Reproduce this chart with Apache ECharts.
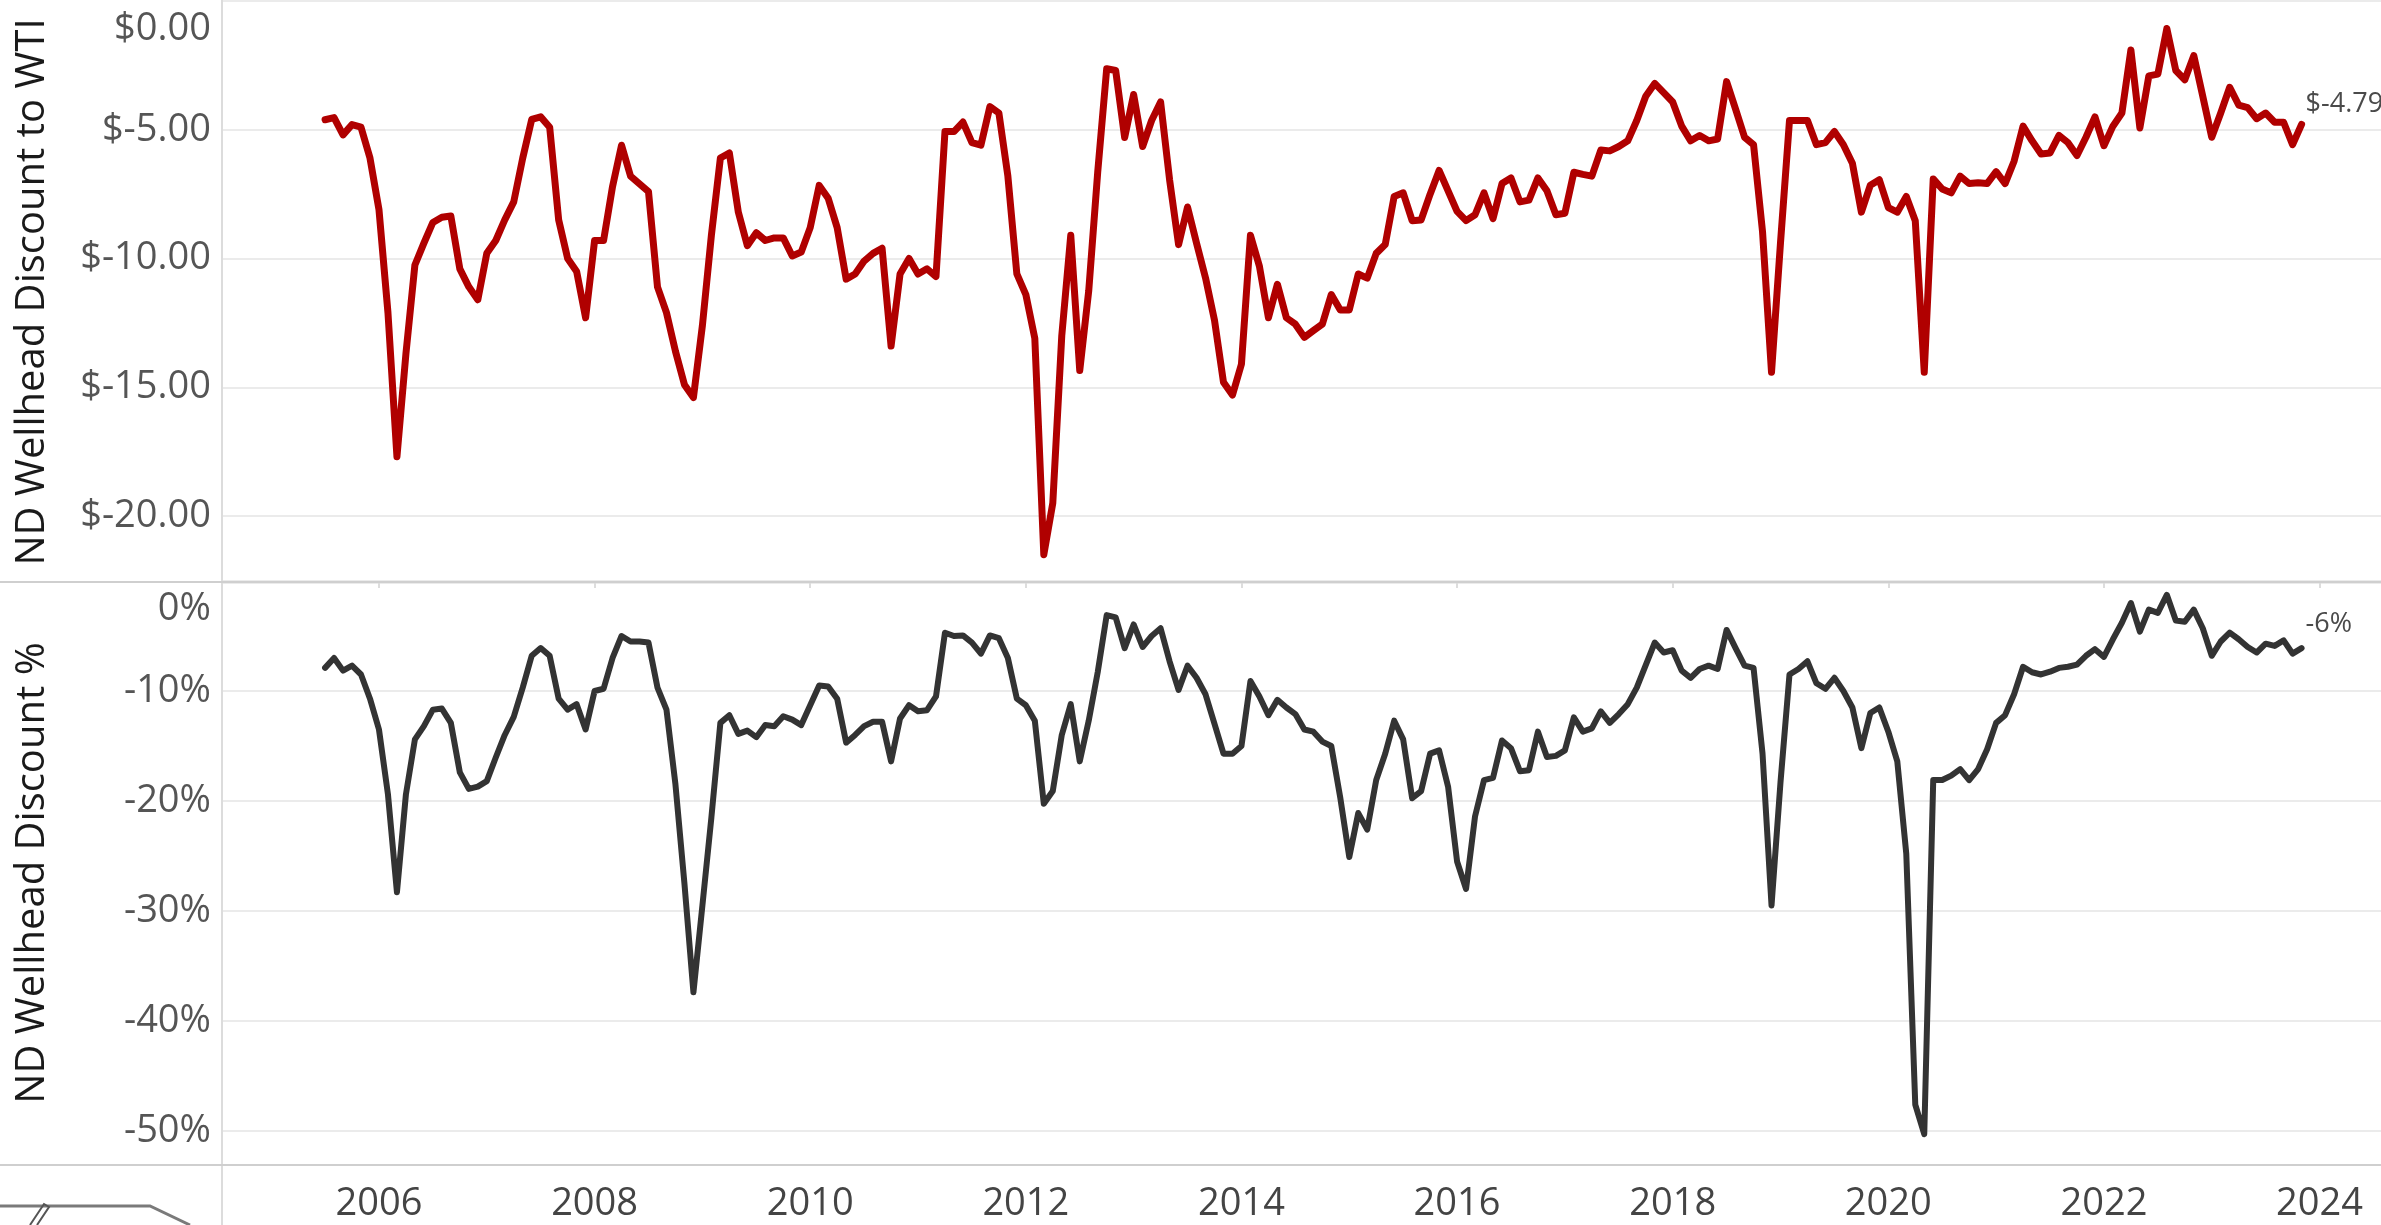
<!DOCTYPE html>
<html>
<head>
<meta charset="utf-8">
<title>ND Wellhead Discount to WTI</title>
<script src="https://cdn.jsdelivr.net/npm/echarts@6/dist/echarts.min.js"></script>
<style>
    html, body { margin: 0; padding: 0; background: #ffffff; }
    #chart { width: 2381px; height: 1225px; }
</style>
</head>
<body>
<div id="chart"></div>
<script>
// monthly values, first month is July 2005, last is November 2023
const startYear = 2005
const startMonth = 7

// ND wellhead price minus WTI, $/bbl
const discountUsd = [
    -4.61, -4.53, -5.2, -4.8, -4.9, -6.1,
    -8.1, -12.1, -17.7, -13.7, -10.25, -9.4, -8.6, -8.4, -8.35, -10.4, -11.1, -11.6,
    -9.8, -9.3, -8.5, -7.8, -6.1, -4.6, -4.5, -4.9, -8.5, -10.0, -10.5, -12.3,
    -9.3, -9.3, -7.2, -5.6, -6.8, -7.1, -7.4, -11.1, -12.1, -13.6, -14.9, -15.4,
    -12.6, -9.1, -6.1, -5.9, -8.2, -9.5, -9.0, -9.3, -9.2, -9.2, -9.9, -9.75,
    -8.8, -7.16, -7.66, -8.8, -10.8, -10.6, -10.1, -9.8, -9.6, -13.4, -10.6, -10.0,
    -10.6, -10.4, -10.7, -5.07, -5.07, -4.7, -5.5, -5.6, -4.1, -4.35, -6.8, -10.6,
    -11.4, -13.1, -21.5, -19.5, -13.0, -9.1, -14.35, -11.26, -6.65, -2.63, -2.7, -5.3,
    -3.63, -5.65, -4.64, -3.92, -6.94, -9.46, -8.0, -9.4, -10.75, -12.4, -14.8, -15.3,
    -14.1, -9.1, -10.3, -12.3, -11.0, -12.3, -12.55, -13.06, -12.8, -12.55, -11.4, -12.0,
    -12.0, -10.6, -10.76, -9.8, -9.46, -7.59, -7.45, -8.53, -8.5, -7.5, -6.58, -7.37,
    -8.17, -8.53, -8.3, -7.45, -8.45, -7.09, -6.87, -7.8, -7.73, -6.87, -7.37, -8.3,
    -8.24, -6.65, -6.73, -6.8, -5.79, -5.82, -5.65, -5.43, -4.64, -3.7, -3.2, -3.56,
    -3.92, -4.86, -5.43, -5.22, -5.43, -5.36, -3.13, -4.2, -5.29, -5.58, -8.96, -14.42,
    -9.39, -4.64, -4.64, -4.64, -5.58, -5.5, -5.07, -5.58, -6.3, -8.2, -7.15, -6.94,
    -8.02, -8.2, -7.59, -8.53, -14.42, -6.91, -7.3, -7.45, -6.8, -7.09, -7.06, -7.09,
    -6.63, -7.09, -6.22, -4.86, -5.43, -5.94, -5.9, -5.22, -5.5, -6.0, -5.29, -4.5,
    -5.62, -4.86, -4.35, -1.9, -4.93, -2.91, -2.84, -1.07, -2.7, -3.06, -2.12, -3.7,
    -5.29, -4.35, -3.35, -4.04, -4.14, -4.57, -4.35, -4.71, -4.71, -5.58, -4.79
]

// same discount as a share of WTI, %
const discountPct = [
    -7.9, -7.0, -8.15, -7.7, -8.5, -10.7,
    -13.5, -19.4, -28.3, -19.4, -14.4, -13.2, -11.7, -11.6, -12.9, -17.4, -18.9, -18.7,
    -18.2, -16.05, -14.0, -12.35, -9.7, -6.8, -6.1, -6.8, -10.7, -11.7, -11.2, -13.5,
    -10.0, -9.8, -7.0, -5.0, -5.5, -5.5, -5.6, -9.7, -11.7, -18.5, -27.5, -37.4,
    -29.5, -21.5, -12.9, -12.2, -13.9, -13.6, -14.2, -13.1, -13.2, -12.3, -12.6, -13.1,
    -11.3, -9.5, -9.6, -10.7, -14.7, -14.0, -13.2, -12.8, -12.8, -16.4, -12.5, -11.3,
    -11.85, -11.75, -10.5, -4.7, -5.0, -4.95, -5.6, -6.6, -4.95, -5.2, -7.0, -10.7,
    -11.3, -12.7, -20.25, -19.1, -14.0, -11.2, -16.4, -12.7, -8.3, -3.1, -3.3, -6.1,
    -3.95, -6.0, -5.0, -4.3, -7.3, -9.9, -7.7, -8.8, -10.3, -13.0, -15.7, -15.7,
    -15.0, -9.1, -10.5, -12.2, -10.8, -11.5, -12.1, -13.5, -13.7, -14.6, -15.0, -19.7,
    -25.1, -21.1, -22.6, -18.1, -15.7, -12.7, -14.4, -19.75, -19.1, -15.7, -15.4, -18.7,
    -25.5, -28.0, -21.4, -18.1, -17.9, -14.5, -15.2, -17.3, -17.2, -13.7, -16.0, -15.9,
    -15.4, -12.4, -13.7, -13.4, -11.85, -12.9, -12.1, -11.2, -9.7, -7.65, -5.6, -6.5,
    -6.3, -8.15, -8.8, -8.0, -7.7, -8.0, -4.45, -6.1, -7.7, -7.9, -15.7, -29.5,
    -18.3, -8.5, -8.0, -7.3, -9.3, -9.8, -8.8, -10.0, -11.5, -15.2, -12.0, -11.5,
    -13.7, -16.4, -24.8, -47.6, -50.3, -18.1, -18.1, -17.7, -17.1, -18.1, -17.1, -15.3,
    -12.9, -12.2, -10.3, -7.8, -8.3, -8.5, -8.25, -7.9, -7.8, -7.6, -6.8, -6.2,
    -6.9, -5.3, -3.8, -2.0, -4.6, -2.6, -2.9, -1.26, -3.6, -3.7, -2.6, -4.3,
    -6.8, -5.5, -4.7, -5.3, -6.0, -6.5, -5.7, -5.9, -5.4, -6.6, -6.1
]

const yearTicks = [2006, 2008, 2010, 2012, 2014, 2016, 2018, 2020, 2022, 2024]
const usdTicks = [-20, -15, -10, -5, 0]
const pctTicks = [-50, -40, -30, -20, -10, 0]

const font = "'Open Sans', 'Noto Sans', sans-serif"
const gridColor = '#ebebeb'
const frameColor = '#cfcfcf'

// month i -> decimal year (month start)
function monthPos(i) {
    return startYear + (startMonth - 1) / 12 + i / 12
}

const usdData = discountUsd.map((v, i) => [monthPos(i), v])
const pctData = discountPct.map((v, i) => [monthPos(i), v])

const chart = echarts.init(document.getElementById('chart'), null, { renderer: 'canvas' })

const tickText = {
    fontFamily: font,
    fontSize: 38,
    color: '#555555'
}

const option = {
    animation: false,
    backgroundColor: '#ffffff',
    grid: [
        { left: 222, right: 0, top: 1, height: 582 },
        { left: 222, right: 0, top: 581, height: 584 }
    ],
    xAxis: [{
        type: 'value',
        gridIndex: 0,
        min: 2004.544,
        max: 2024.57,
        show: false
    }, {
        type: 'value',
        gridIndex: 1,
        min: 2004.544,
        max: 2024.57,
        axisLine: { show: false },
        splitLine: { show: false },
        axisTick: {
            show: true,
            customValues: yearTicks,
            length: 7,
            lineStyle: { color: '#dddddd', width: 2 }
        },
        axisLabel: {
            customValues: yearTicks,
            formatter: v => String(Math.round(v)),
            margin: 20,
            fontFamily: font,
            fontSize: 38,
            color: '#444444'
        }
    }],
    yAxis: [{
        type: 'value',
        gridIndex: 0,
        min: -22.6,
        max: 0,
        name: 'ND Wellhead Discount to WTI',
        nameLocation: 'middle',
        nameGap: 169,
        nameTextStyle: { fontFamily: font, fontSize: 40, color: '#1a1a1a' },
        axisLine: { show: false },
        axisTick: { show: false },
        splitLine: { show: true, lineStyle: { color: gridColor, width: 2 } },
        axisLabel: Object.assign({}, tickText, {
            customValues: usdTicks,
            margin: 11,
            formatter(v) {
                const txt = '$' + v.toFixed(2)
                return v === 0 ? '{top|' + txt + '}' : txt
            },
            rich: { top: Object.assign({ padding: [56, 0, 0, 0] }, tickText) }
        })
    }, {
        type: 'value',
        gridIndex: 1,
        min: -53.1,
        max: 0,
        name: 'ND Wellhead Discount %',
        nameLocation: 'middle',
        nameGap: 169,
        nameTextStyle: { fontFamily: font, fontSize: 40, color: '#1a1a1a' },
        axisLine: { show: false },
        axisTick: { show: false },
        splitLine: { show: true, lineStyle: { color: gridColor, width: 2 } },
        axisLabel: Object.assign({}, tickText, {
            customValues: pctTicks,
            margin: 11,
            formatter(v) {
                const txt = Math.round(v) + '%'
                return v === 0 ? '{top|' + txt + '}' : txt
            },
            rich: { top: Object.assign({ padding: [56, 0, 0, 0] }, tickText) }
        })
    }],
    series: [{
        name: 'ND Wellhead Discount to WTI',
        type: 'line',
        xAxisIndex: 0,
        yAxisIndex: 0,
        data: usdData,
        showSymbol: false,
        lineStyle: { color: '#b00000', width: 7, join: 'round', cap: 'round' },
        itemStyle: { color: '#b00000' },
        endLabel: {
            show: true,
            distance: 4,
            formatter: p => '{a|$' + p.value[1].toFixed(2) + '}',
            rich: { a: { padding: [0, 0, 40, 0], fontFamily: font, fontSize: 27, color: '#4a4a4a' } }
        }
    }, {
        name: 'ND Wellhead Discount %',
        type: 'line',
        xAxisIndex: 1,
        yAxisIndex: 1,
        data: pctData,
        showSymbol: false,
        lineStyle: { color: '#333333', width: 6, join: 'round', cap: 'round' },
        itemStyle: { color: '#333333' },
        endLabel: {
            show: true,
            distance: 4,
            formatter: p => '{a|' + Math.round(p.value[1]) + '%}',
            rich: { a: { padding: [0, 0, 48, 0], fontFamily: font, fontSize: 27, color: '#4a4a4a' } }
        }
    }],
    graphic: [
        // pane frame
        { type: 'line', shape: { x1: 222, y1: 0, x2: 222, y2: 1225 }, style: { stroke: '#dcdcdc', lineWidth: 2 }, z: 10 },
        { type: 'line', shape: { x1: 0, y1: 582, x2: 2381, y2: 582 }, style: { stroke: frameColor, lineWidth: 2 }, z: 10 },
        { type: 'line', shape: { x1: 0, y1: 1165, x2: 2381, y2: 1165 }, style: { stroke: frameColor, lineWidth: 2 }, z: 10 },
        // corner of the logo cut off at the bottom left
        { type: 'polyline', shape: { points: [[0, 1206], [150, 1206], [190, 1225]] }, style: { stroke: '#7a7a7a', lineWidth: 3, fill: null } },
        { type: 'polyline', shape: { points: [[30, 1225], [44, 1204], [49, 1207], [37, 1225]] }, style: { stroke: '#555555', lineWidth: 2, fill: null } }
    ]
}

chart.setOption(option)
</script>
</body>
</html>
